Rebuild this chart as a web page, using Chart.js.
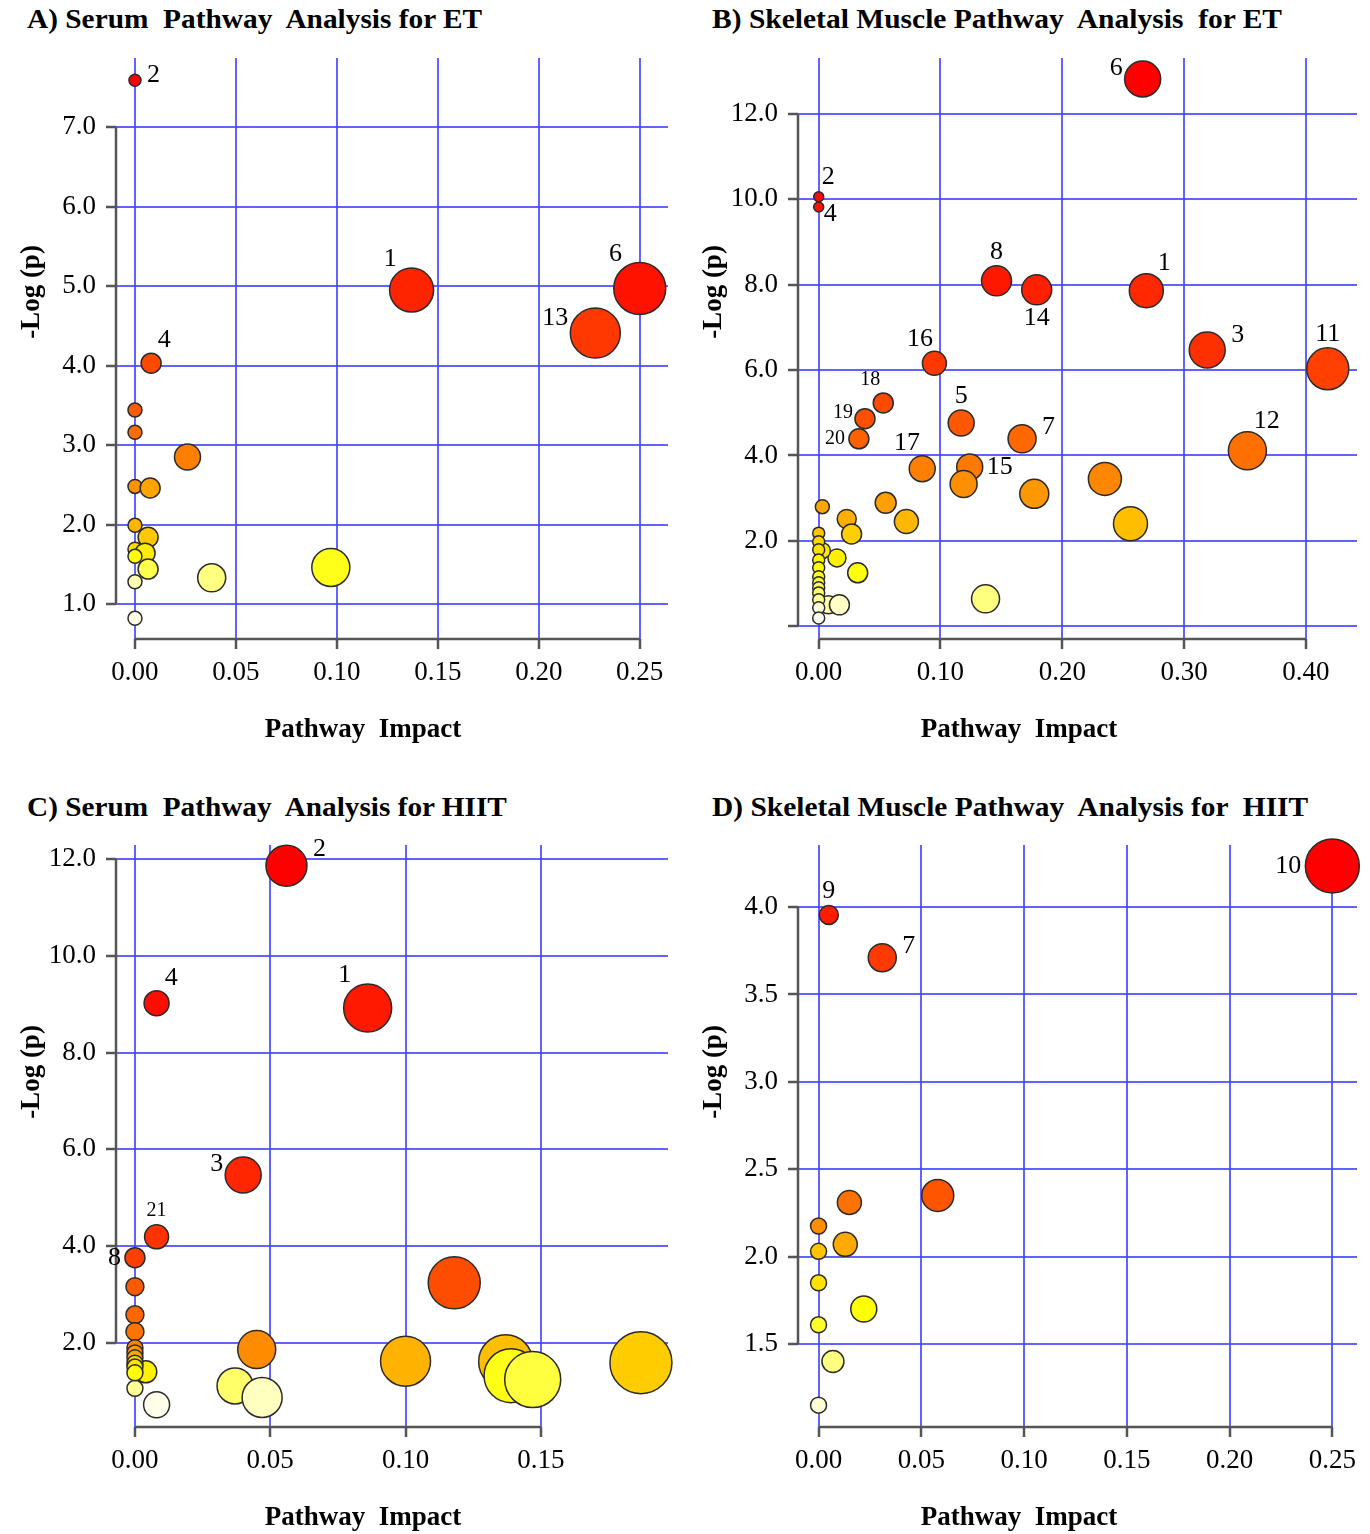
<!DOCTYPE html>
<html>
<head>
<meta charset="utf-8">
<script src="https://cdn.jsdelivr.net/npm/chart.js@4.4.1/dist/chart.umd.min.js"></script>
<style>
body { margin: 0; background: #fff; width: 1370px; height: 1534px; position: relative; overflow: hidden;
       font-family: 'Liberation Serif', 'Times New Roman', serif; color: #000; }
.panel { position: absolute; }
.title { position: absolute; display: inline-block; font-weight: bold; font-size: 28px; line-height: 28px;
         white-space: pre; transform-origin: 0 0; }
.xt { position: absolute; width: 300px; text-align: center; font-weight: bold; font-size: 27px; line-height: 30px; white-space: pre; }
.yt { position: absolute; width: 200px; height: 30px; text-align: center; font-weight: bold; font-size: 27px;
      line-height: 30px; white-space: pre; transform: rotate(-90deg); }
</style>
</head>
<body>
<div class="title" data-w="455" style="left:27px;top:5px">A) Serum  Pathway  Analysis for ET</div>
<div class="title" data-w="570" style="left:712px;top:5px">B) Skeletal Muscle Pathway  Analysis  for ET</div>
<div class="title" data-w="480" style="left:27px;top:793px">C) Serum  Pathway  Analysis for HIIT</div>
<div class="title" data-w="596" style="left:712px;top:793px">D) Skeletal Muscle Pathway  Analysis for  HIIT</div>

<div class="panel" style="left:0;top:0;width:685px;height:767px"><canvas id="chartA"></canvas></div>
<div class="panel" style="left:685px;top:0;width:685px;height:767px"><canvas id="chartB"></canvas></div>
<div class="panel" style="left:0;top:767px;width:685px;height:767px"><canvas id="chartC"></canvas></div>
<div class="panel" style="left:685px;top:767px;width:685px;height:767px"><canvas id="chartD"></canvas></div>

<div class="xt" style="left:213px;top:713px">Pathway  Impact</div>
<div class="xt" style="left:869px;top:713px">Pathway  Impact</div>
<div class="xt" style="left:213px;top:1501px">Pathway  Impact</div>
<div class="xt" style="left:869px;top:1501px">Pathway  Impact</div>
<div class="yt" style="left:-70px;top:277px">-Log (p)</div>
<div class="yt" style="left:612px;top:277px">-Log (p)</div>
<div class="yt" style="left:-70px;top:1057px">-Log (p)</div>
<div class="yt" style="left:612px;top:1057px">-Log (p)</div>

<script>
// A) serum, ET
const serumET_impact = [0.000, 0.008, 0.137, 0.228, 0.250, 0.000, 0.000, 0.026, 0.000, 0.0075,
                        0.000, 0.0065, 0.000, 0.005, 0.000, 0.0065, 0.038, 0.097, 0.000, 0.000];
const serumET_logp   = [7.59, 4.03, 4.95, 4.41, 4.97, 3.44, 3.16, 2.85, 2.48, 2.46,
                        1.99, 1.84, 1.69, 1.64, 1.60, 1.44, 1.33, 1.46, 1.28, 0.82];
const serumET_size   = [6, 10, 22, 25, 26, 7, 7, 13, 7, 10, 7, 10, 7, 10, 7, 10, 14, 19, 7, 7];
const serumET_label  = ['2', '4', '1', '13', '6', '', '', '', '', '', '', '', '', '', '', '', '', '', '', ''];

// B) skeletal muscle, ET
const muscleET_impact = [0.266, 0.000, 0.000, 0.146, 0.179, 0.269, 0.319, 0.418, 0.095, 0.053,
                         0.038, 0.033, 0.117, 0.167, 0.352, 0.085, 0.124, 0.119, 0.235, 0.177,
                         0.256, 0.055, 0.072, 0.003, 0.023, 0.027, 0.015, 0.032, 0.137, 0.003,
                         0.008, 0.017, 0.000, 0.000, 0.000, 0.000, 0.000, 0.000, 0.000, 0.000,
                         0.000, 0.000, 0.000, 0.000];
const muscleET_logp   = [12.82, 10.06, 9.82, 8.09, 7.88, 7.86, 6.47, 6.03, 6.16, 5.23,
                         4.86, 4.39, 4.76, 4.39, 4.11, 3.69, 3.73, 3.33, 3.45, 3.10,
                         2.40, 2.89, 2.45, 2.80, 2.51, 2.16, 1.60, 1.25, 0.64, 1.77,
                         0.50, 0.50, 2.18, 1.98, 1.79, 1.55, 1.37, 1.16, 1.02, 0.90,
                         0.78, 0.62, 0.43, 0.19];
const muscleET_size   = [18, 5, 5, 15, 15, 17, 18, 21, 12, 10,
                         10, 10, 13, 14, 19, 13, 13, 13.5, 16.5, 14.5,
                         17, 10.5, 12, 7, 9.5, 10, 9, 10, 14, 8,
                         9, 10, 6, 6, 6, 6, 6, 6, 6, 6,
                         6, 6, 6, 6];
const muscleET_label  = ['6', '2', '4', '8', '14', '1', '3', '11', '16', '18',
                         '19', '20', '5', '7', '12', '17', '15'];

// C) serum, HIIT
const serumHIIT_impact = [0.056, 0.008, 0.086, 0.040, 0.008, 0.000, 0.000, 0.000, 0.000, 0.118,
                          0.045, 0.100, 0.137, 0.139, 0.147, 0.187, 0.037, 0.047, 0.004, 0.000,
                          0.008, 0.000, 0.000, 0.000, 0.000, 0.000, 0.000];
const serumHIIT_logp   = [11.86, 9.02, 8.92, 5.47, 4.19, 3.76, 3.16, 2.58, 2.23, 3.24,
                          1.86, 1.62, 1.61, 1.32, 1.24, 1.59, 1.11, 0.87, 1.40, 1.06,
                          0.72, 1.90, 1.79, 1.69, 1.58, 1.50, 1.38];
const serumHIIT_size   = [20.5, 12.5, 24, 18, 12, 10, 9, 9, 9, 26,
                          19, 25, 27, 27, 28, 31, 18, 20, 11, 8,
                          13, 8, 8, 8, 8, 8, 8];
const serumHIIT_label  = ['2', '4', '1', '3', '21', '8'];

// D) skeletal muscle, HIIT
const muscleHIIT_impact = [0.250, 0.005, 0.031, 0.058, 0.015, 0.000, 0.013, 0.000, 0.000, 0.022, 0.000, 0.007, 0.000];
const muscleHIIT_logp   = [4.235, 3.955, 3.71, 2.35, 2.31, 2.175, 2.07, 2.03, 1.85, 1.70, 1.61, 1.40, 1.15];
const muscleHIIT_size   = [27, 9.5, 14, 16, 12, 8, 12, 8, 8, 13, 8, 11, 8];
const muscleHIIT_label  = ['10', '9', '7'];

// tick values
const ticksA_x = [0, 0.05, 0.10, 0.15, 0.20, 0.25];
const ticksA_y = [1, 2, 3, 4, 5, 6, 7];
const ticksB_x = [0, 0.10, 0.20, 0.30, 0.40];
const ticksB_y = [0, 2, 4, 6, 8, 10, 12];
const ticksC_x = [0, 0.05, 0.10, 0.15];
const ticksC_y = [2, 4, 6, 8, 10, 12];
const ticksD_x = [0, 0.05, 0.10, 0.15, 0.20, 0.25];
const ticksD_y = [1.5, 2.0, 2.5, 3.0, 3.5, 4.0];

Chart.defaults.font.family = "'Liberation Serif', 'Times New Roman', serif";
Chart.defaults.color = '#000';

const GRID_BLUE = 'rgba(70, 70, 255, 0.85)';
const AXIS_GREY = '#555';

// R's heat.colors(n): red -> yellow, then fading yellow
function hsvToRgb(h, s, v) {
    const i = Math.floor(h * 6), f = h * 6 - i;
    const p = v * (1 - s), q = v * (1 - f * s), t = v * (1 - (1 - f) * s);
    let r, g, b;
    switch (i % 6) {
        case 0: r = v; g = t; b = p; break;
        case 1: r = q; g = v; b = p; break;
        case 2: r = p; g = v; b = t; break;
        case 3: r = p; g = q; b = v; break;
        case 4: r = t; g = p; b = v; break;
        default: r = v; g = p; b = q;
    }
    return `rgb(${Math.round(r * 255)}, ${Math.round(g * 255)}, ${Math.round(b * 255)})`;
}

function heatColors(n) {
    const j = Math.floor(n / 4), i = n - j;
    const out = [];
    for (let k = 0; k < i; k++) out.push(hsvToRgb(i > 1 ? k / (i - 1) / 6 : 0, 1, 1));
    for (let k = 0; k < j; k++) {
        const s = j > 1 ? (1 - 1 / (2 * j)) - k * (1 - 1 / j) / (j - 1) : 0.5;
        out.push(hsvToRgb(1 / 6, s, 1));
    }
    return out;
}

// axis lines only across the tick range, as R draws them
const axisLinePlugin = {
    id: 'rAxes',
    beforeDatasetsDraw(chart) {
        const { ctx, chartArea, scales } = chart;
        const xt = scales.x.ticks, yt = scales.y.ticks;
        ctx.save();
        ctx.strokeStyle = AXIS_GREY;
        ctx.lineWidth = 2.5;
        ctx.beginPath();
        ctx.moveTo(scales.x.getPixelForValue(xt[0].value), chartArea.bottom);
        ctx.lineTo(scales.x.getPixelForValue(xt[xt.length - 1].value), chartArea.bottom);
        ctx.moveTo(chartArea.left, scales.y.getPixelForValue(yt[0].value));
        ctx.lineTo(chartArea.left, scales.y.getPixelForValue(yt[yt.length - 1].value));
        ctx.stroke();
        ctx.restore();
    }
};

const labelPlugin = {
    id: 'bubbleLabels',
    afterDatasetsDraw(chart, args, opts) {
        const ds = chart.data.datasets[0];
        const meta = chart.getDatasetMeta(0);
        const ctx = chart.ctx;
        ctx.save();
        ctx.fillStyle = '#000';
        meta.data.forEach((el, i) => {
            const txt = ds.pointLabels[i];
            if (!txt) return;
            const r = ds.data[i].r;
            const side = opts.sides[txt] || 'u';
            const size = (opts.small || []).includes(txt) ? 20 : 26;
            ctx.font = size + "px 'Liberation Serif', serif";
            let x = el.x, y = el.y, align = 'center';
            switch (side) {
                case 'u': y -= r + 14; break;
                case 'd': y += r + 13; break;
                case 'ul': x -= r * 0.7 + 6; y -= r * 0.7 + 16; break;
                case 'ur': x += r * 0.7 + 6; y -= r * 0.7 + 16; break;
                case 'dr': x += r * 0.7 + 8; y += r * 0.7 + 4; break;
                case 'l': x -= r + 4; align = 'right'; break;
                case 'lu': x -= r + 2; y -= r * 0.6; align = 'right'; break;
                case 'r': x += r + 4; align = 'left'; break;
                case 'ru': x += r + 6; y -= r * 0.8; align = 'left'; break;
            }
            ctx.textAlign = align;
            ctx.textBaseline = 'middle';
            ctx.fillText(txt, x, y);
        });
        ctx.restore();
    }
};

function renderPanel(id, xs, ys, sizes, names, cfg) {
    const ctx = document.getElementById(id);
    if (!ctx) return;

    // colour by rank of -log(p), highest = red
    const palette = heatColors(ys.length);
    const order = ys.map((v, i) => i).sort((a, b) => ys[b] - ys[a]);
    const colors = new Array(ys.length);
    order.forEach((idx, rank) => { colors[idx] = palette[rank]; });

    const gridOpts = {
        color: GRID_BLUE,
        lineWidth: 2,
        tickColor: AXIS_GREY,
        tickWidth: 2.5,
        tickLength: 10
    };

    new Chart(ctx, {
        type: 'bubble',
        data: {
            datasets: [{
                data: xs.map((x, i) => ({ x: x, y: ys[i], r: sizes[i] })),
                pointLabels: names,
                backgroundColor: colors,
                borderColor: '#2b2b2b',
                borderWidth: 1.5,
                hoverRadius: 0,
                clip: false
            }]
        },
        options: {
            responsive: true,
            maintainAspectRatio: false,
            animation: false,
            events: [],
            layout: { padding: cfg.padding, autoPadding: false },
            plugins: {
                legend: { display: false },
                tooltip: { enabled: false },
                bubbleLabels: { sides: cfg.sides, small: cfg.small }
            },
            scales: {
                x: {
                    type: 'linear',
                    min: cfg.xMin,
                    max: cfg.xMax,
                    afterBuildTicks: axis => { axis.ticks = cfg.xTicks.map(v => ({ value: v })); },
                    afterFit: axis => {
                        axis.height = cfg.xAxisH;
                        axis.paddingLeft = 0;
                        axis.paddingRight = 0;
                    },
                    ticks: {
                        callback: v => v.toFixed(2),
                        font: { size: 27 },
                        color: '#000',
                        padding: 8,
                        maxRotation: 0,
                        autoSkip: false
                    },
                    grid: gridOpts,
                    border: { display: false }
                },
                y: {
                    type: 'linear',
                    min: cfg.yMin,
                    max: cfg.yMax,
                    afterBuildTicks: axis => { axis.ticks = cfg.yTicks.map(v => ({ value: v })); },
                    afterFit: axis => {
                        axis.width = cfg.yAxisW;
                        axis.paddingTop = 0;
                        axis.paddingBottom = 0;
                    },
                    ticks: {
                        callback: v => (v === 0 ? '' : v.toFixed(1)),
                        font: { size: 27 },
                        color: '#000',
                        padding: 10,
                        autoSkip: false
                    },
                    grid: gridOpts,
                    border: { display: false }
                }
            }
        },
        plugins: [axisLinePlugin, labelPlugin]
    });
}

renderPanel('chartA', serumET_impact, serumET_logp, serumET_size, serumET_label, {
    xMin: -0.0094, xMax: 0.264, yMin: 0.56, yMax: 7.87,
    xTicks: ticksA_x, yTicks: ticksA_y,
    padding: { top: 58, right: 17, bottom: 0, left: 0 }, yAxisW: 116, xAxisH: 128,
    sides: { '2': 'ru', '4': 'ur', '1': 'ul', '13': 'lu', '6': 'ul' }
});

renderPanel('chartB', muscleET_impact, muscleET_logp, muscleET_size, muscleET_label, {
    xMin: -0.017, xMax: 0.442, yMin: -0.30, yMax: 13.31,
    xTicks: ticksB_x, yTicks: ticksB_y,
    padding: { top: 58, right: 13, bottom: 0, left: 0 }, yAxisW: 113, xAxisH: 128,
    sides: { '6': 'lu', '2': 'ur', '4': 'dr', '8': 'u', '14': 'd', '1': 'ur', '3': 'ru', '11': 'u',
             '16': 'ul', '18': 'ul', '19': 'lu', '20': 'l', '5': 'u', '7': 'ru', '12': 'ur', '17': 'ul', '15': 'r' },
    small: ['18', '19', '20']
});

renderPanel('chartC', serumHIIT_impact, serumHIIT_logp, serumHIIT_size, serumHIIT_label, {
    xMin: -0.007, xMax: 0.197, yMin: 0.26, yMax: 12.29,
    xTicks: ticksC_x, yTicks: ticksC_y,
    padding: { top: 78, right: 17, bottom: 0, left: 0 }, yAxisW: 116, xAxisH: 107,
    sides: { '2': 'ru', '4': 'ur', '1': 'ul', '3': 'lu', '21': 'u', '8': 'l' },
    small: ['21']
});

renderPanel('chartD', muscleHIIT_impact, muscleHIIT_logp, muscleHIIT_size, muscleHIIT_label, {
    xMin: -0.010, xMax: 0.262, yMin: 1.025, yMax: 4.355,
    xTicks: ticksD_x, yTicks: ticksD_y,
    padding: { top: 78, right: 13, bottom: 0, left: 0 }, yAxisW: 113, xAxisH: 107,
    sides: { '10': 'l', '9': 'u', '7': 'ru' }
});

// stretch titles to the widths they have in the figure
document.querySelectorAll('.title').forEach(el => {
    const target = parseFloat(el.dataset.w);
    const w = el.getBoundingClientRect().width;
    if (w > 0) el.style.transform = 'scaleX(' + (target / w).toFixed(3) + ')';
});
</script>
</body>
</html>
